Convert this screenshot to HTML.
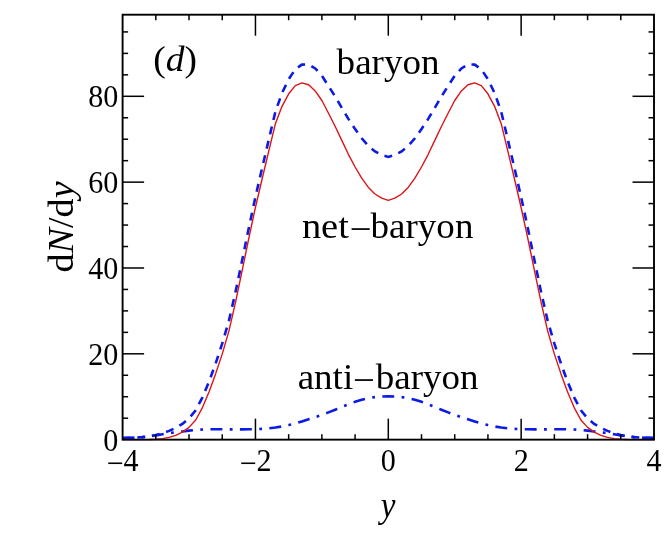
<!DOCTYPE html>
<html><head><meta charset="utf-8"><style>
html,body{margin:0;padding:0;background:#fff;}
svg{display:block;will-change:transform}
text{font-family:"Liberation Serif",serif;fill:#000}
.t{font-size:30px}
.l{font-size:36px}
</style></head><body>
<svg width="664" height="558" viewBox="0 0 664 558">
<rect width="664" height="558" fill="#fff"/>
<path d="M122.6,438.1 L129.2,437.9 L135.9,437.6 L142.5,437.1 L149.2,436.3 L155.8,435.1 L162.5,433.3 L169.1,430.9 L175.7,427.9 L182.4,423.9 L189.0,418.4 L195.7,410.3 L202.3,397.6 L209.0,381.8 L215.6,363.6 L222.2,343.7 L228.9,320.8 L235.5,292.1 L242.2,260.1 L248.8,228.0 L255.4,197.1 L262.1,168.2 L268.7,140.0 L275.4,111.6 L282.0,93.1 L288.7,79.2 L295.3,69.3 L301.9,64.6 L308.6,64.4 L315.2,68.4 L321.9,75.7 L328.5,86.0 L335.2,96.6 L341.8,107.8 L348.4,118.9 L355.1,129.1 L361.7,138.3 L368.4,145.9 L375.0,151.4 L381.7,155.0 L388.3,156.9 L394.9,155.0 L401.6,151.4 L408.2,145.9 L414.9,138.3 L421.5,129.1 L428.2,118.9 L434.8,107.8 L441.4,96.6 L448.1,86.0 L454.7,75.7 L461.4,68.4 L468.0,64.4 L474.7,64.6 L481.3,69.3 L487.9,79.2 L494.6,93.1 L501.2,111.6 L507.9,140.0 L514.5,168.2 L521.1,197.1 L527.8,228.0 L534.4,260.1 L541.1,292.1 L547.7,320.8 L554.4,343.7 L561.0,363.6 L567.6,381.8 L574.3,397.6 L580.9,410.3 L587.6,418.4 L594.2,423.9 L600.9,427.9 L607.5,430.9 L614.1,433.3 L620.8,435.1 L627.4,436.3 L634.1,437.1 L640.7,437.6 L647.4,437.9 L654.0,438.1" fill="none" stroke="#0c1ae6" stroke-width="2.6" stroke-dasharray="8.0 6.725" stroke-dashoffset="0.00"/>
<path d="M122.6,438.1 L129.2,437.9 L135.9,437.6 L142.5,437.1 L149.2,436.4 L155.8,435.5 L162.5,434.3 L169.1,433.1 L175.7,432.3 L182.4,431.5 L189.0,430.6 L195.7,429.9 L202.3,429.5 L209.0,429.3 L215.6,429.3 L222.2,429.3 L228.9,429.4 L235.5,429.4 L242.2,429.4 L248.8,429.3 L255.4,429.2 L262.1,428.9 L268.7,428.3 L275.4,427.5 L282.0,426.5 L288.7,425.1 L295.3,423.4 L301.9,421.4 L308.6,419.3 L315.2,417.2 L321.9,414.9 L328.5,412.4 L335.2,409.7 L341.8,407.0 L348.4,404.3 L355.1,401.8 L361.7,399.7 L368.4,398.2 L375.0,397.1 L381.7,396.5 L388.3,396.2 L394.9,396.5 L401.6,397.1 L408.2,398.2 L414.9,399.7 L421.5,401.8 L428.2,404.3 L434.8,407.0 L441.4,409.7 L448.1,412.4 L454.7,414.9 L461.4,417.2 L468.0,419.3 L474.7,421.4 L481.3,423.4 L487.9,425.1 L494.6,426.5 L501.2,427.5 L507.9,428.3 L514.5,428.9 L521.1,429.2 L527.8,429.3 L534.4,429.4 L541.1,429.4 L547.7,429.4 L554.4,429.3 L561.0,429.3 L567.6,429.3 L574.3,429.5 L580.9,429.9 L587.6,430.6 L594.2,431.5 L600.9,432.3 L607.5,433.1 L614.1,434.3 L620.8,435.5 L627.4,436.4 L634.1,437.1 L640.7,437.6 L647.4,437.9 L654.0,438.1" fill="none" stroke="#0c1ae6" stroke-width="2.6" stroke-dasharray="11.9 7.386 2.8 7.386" stroke-dashoffset="0.00"/>
<path d="M122.6,439.6 L129.2,439.6 L135.9,439.6 L142.5,439.6 L149.2,439.5 L155.8,439.2 L162.5,438.6 L169.1,437.4 L175.7,435.3 L182.4,432.1 L189.0,427.4 L195.7,420.0 L202.3,407.8 L209.0,392.1 L215.6,373.9 L222.2,354.1 L228.9,331.1 L235.5,302.3 L242.2,270.4 L248.8,238.3 L255.4,207.5 L262.1,179.0 L268.7,151.3 L275.4,123.7 L282.0,106.3 L288.7,93.8 L295.3,85.6 L301.9,82.9 L308.6,84.7 L315.2,90.9 L321.9,100.5 L328.5,113.2 L335.2,126.5 L341.8,140.4 L348.4,154.3 L355.1,167.0 L361.7,178.2 L368.4,187.4 L375.0,194.0 L381.7,198.2 L388.3,200.3 L394.9,198.2 L401.6,194.0 L408.2,187.4 L414.9,178.2 L421.5,167.0 L428.2,154.3 L434.8,140.4 L441.4,126.5 L448.1,113.2 L454.7,100.5 L461.4,90.9 L468.0,84.7 L474.7,82.9 L481.3,85.6 L487.9,93.8 L494.6,106.3 L501.2,123.7 L507.9,151.3 L514.5,179.0 L521.1,207.5 L527.8,238.3 L534.4,270.4 L541.1,302.3 L547.7,331.1 L554.4,354.1 L561.0,373.9 L567.6,392.1 L574.3,407.8 L580.9,420.0 L587.6,427.4 L594.2,432.1 L600.9,435.3 L607.5,437.4 L614.1,438.6 L620.8,439.2 L627.4,439.5 L634.1,439.6 L640.7,439.6 L647.4,439.6 L654.0,439.6" fill="none" stroke="#dc1416" stroke-width="1.4" stroke-linejoin="round"/>
<g stroke="#000" stroke-width="1.5">
<line x1="155.81" y1="439.65" x2="155.81" y2="434.15"/>
<line x1="155.81" y1="14.7" x2="155.81" y2="20.2"/>
<line x1="189.02" y1="439.65" x2="189.02" y2="434.15"/>
<line x1="189.02" y1="14.7" x2="189.02" y2="20.2"/>
<line x1="222.24" y1="439.65" x2="222.24" y2="434.15"/>
<line x1="222.24" y1="14.7" x2="222.24" y2="20.2"/>
<line x1="255.45" y1="439.65" x2="255.45" y2="418.65"/>
<line x1="255.45" y1="14.7" x2="255.45" y2="35.7"/>
<line x1="288.66" y1="439.65" x2="288.66" y2="434.15"/>
<line x1="288.66" y1="14.7" x2="288.66" y2="20.2"/>
<line x1="321.88" y1="439.65" x2="321.88" y2="434.15"/>
<line x1="321.88" y1="14.7" x2="321.88" y2="20.2"/>
<line x1="355.09" y1="439.65" x2="355.09" y2="434.15"/>
<line x1="355.09" y1="14.7" x2="355.09" y2="20.2"/>
<line x1="388.30" y1="439.65" x2="388.30" y2="418.65"/>
<line x1="388.30" y1="14.7" x2="388.30" y2="35.7"/>
<line x1="421.51" y1="439.65" x2="421.51" y2="434.15"/>
<line x1="421.51" y1="14.7" x2="421.51" y2="20.2"/>
<line x1="454.73" y1="439.65" x2="454.73" y2="434.15"/>
<line x1="454.73" y1="14.7" x2="454.73" y2="20.2"/>
<line x1="487.94" y1="439.65" x2="487.94" y2="434.15"/>
<line x1="487.94" y1="14.7" x2="487.94" y2="20.2"/>
<line x1="521.15" y1="439.65" x2="521.15" y2="418.65"/>
<line x1="521.15" y1="14.7" x2="521.15" y2="35.7"/>
<line x1="554.36" y1="439.65" x2="554.36" y2="434.15"/>
<line x1="554.36" y1="14.7" x2="554.36" y2="20.2"/>
<line x1="587.57" y1="439.65" x2="587.57" y2="434.15"/>
<line x1="587.57" y1="14.7" x2="587.57" y2="20.2"/>
<line x1="620.79" y1="439.65" x2="620.79" y2="434.15"/>
<line x1="620.79" y1="14.7" x2="620.79" y2="20.2"/>
<line x1="122.6" y1="418.19" x2="128.1" y2="418.19"/>
<line x1="654.0" y1="418.19" x2="648.5" y2="418.19"/>
<line x1="122.6" y1="396.73" x2="128.1" y2="396.73"/>
<line x1="654.0" y1="396.73" x2="648.5" y2="396.73"/>
<line x1="122.6" y1="375.27" x2="128.1" y2="375.27"/>
<line x1="654.0" y1="375.27" x2="648.5" y2="375.27"/>
<line x1="122.6" y1="353.81" x2="144.1" y2="353.81"/>
<line x1="654.0" y1="353.81" x2="632.5" y2="353.81"/>
<line x1="122.6" y1="332.35" x2="128.1" y2="332.35"/>
<line x1="654.0" y1="332.35" x2="648.5" y2="332.35"/>
<line x1="122.6" y1="310.89" x2="128.1" y2="310.89"/>
<line x1="654.0" y1="310.89" x2="648.5" y2="310.89"/>
<line x1="122.6" y1="289.43" x2="128.1" y2="289.43"/>
<line x1="654.0" y1="289.43" x2="648.5" y2="289.43"/>
<line x1="122.6" y1="267.98" x2="144.1" y2="267.98"/>
<line x1="654.0" y1="267.98" x2="632.5" y2="267.98"/>
<line x1="122.6" y1="246.52" x2="128.1" y2="246.52"/>
<line x1="654.0" y1="246.52" x2="648.5" y2="246.52"/>
<line x1="122.6" y1="225.06" x2="128.1" y2="225.06"/>
<line x1="654.0" y1="225.06" x2="648.5" y2="225.06"/>
<line x1="122.6" y1="203.60" x2="128.1" y2="203.60"/>
<line x1="654.0" y1="203.60" x2="648.5" y2="203.60"/>
<line x1="122.6" y1="182.14" x2="144.1" y2="182.14"/>
<line x1="654.0" y1="182.14" x2="632.5" y2="182.14"/>
<line x1="122.6" y1="160.68" x2="128.1" y2="160.68"/>
<line x1="654.0" y1="160.68" x2="648.5" y2="160.68"/>
<line x1="122.6" y1="139.22" x2="128.1" y2="139.22"/>
<line x1="654.0" y1="139.22" x2="648.5" y2="139.22"/>
<line x1="122.6" y1="117.76" x2="128.1" y2="117.76"/>
<line x1="654.0" y1="117.76" x2="648.5" y2="117.76"/>
<line x1="122.6" y1="96.30" x2="144.1" y2="96.30"/>
<line x1="654.0" y1="96.30" x2="632.5" y2="96.30"/>
<line x1="122.6" y1="74.84" x2="128.1" y2="74.84"/>
<line x1="654.0" y1="74.84" x2="648.5" y2="74.84"/>
<line x1="122.6" y1="53.38" x2="128.1" y2="53.38"/>
<line x1="654.0" y1="53.38" x2="648.5" y2="53.38"/>
<line x1="122.6" y1="31.92" x2="128.1" y2="31.92"/>
<line x1="654.0" y1="31.92" x2="648.5" y2="31.92"/>
</g>
<rect x="122.6" y="14.7" width="531.4" height="424.95" fill="none" stroke="#000" stroke-width="1.9"/>
<text transform="translate(118.20,450.55) scale(0.94,1)" text-anchor="end" font-size="32" >0</text>
<text transform="translate(118.20,364.71) scale(0.94,1)" text-anchor="end" font-size="32" >20</text>
<text transform="translate(118.20,278.88) scale(0.94,1)" text-anchor="end" font-size="32" >40</text>
<text transform="translate(118.20,193.04) scale(0.94,1)" text-anchor="end" font-size="32" >60</text>
<text transform="translate(118.20,107.20) scale(0.94,1)" text-anchor="end" font-size="32" >80</text>
<text transform="translate(122.60,471.10) scale(0.94,1)" text-anchor="middle" font-size="32" ><tspan dy="2.5">−</tspan><tspan dy="-2.5">4</tspan></text>
<text transform="translate(255.45,471.10) scale(0.94,1)" text-anchor="middle" font-size="32" ><tspan dy="2.5">−</tspan><tspan dy="-2.5">2</tspan></text>
<text transform="translate(388.30,471.10) scale(0.94,1)" text-anchor="middle" font-size="32" >0</text>
<text transform="translate(521.15,471.10) scale(0.94,1)" text-anchor="middle" font-size="32" >2</text>
<text transform="translate(654.00,471.10) scale(0.94,1)" text-anchor="middle" font-size="32" >4</text>
<text transform="translate(153.20,70.90) scale(1.04,1)" text-anchor="start" font-size="36" >(<tspan font-style="italic">d</tspan>)</text>
<text transform="translate(336.60,74.40) scale(1.03,1)" text-anchor="start" font-size="36" >baryon</text>
<text x="301.90" y="237.90" font-size="36" textLength="47.00" lengthAdjust="spacingAndGlyphs">net</text>
<text x="349.40" y="241.10" font-size="36" textLength="22.00" lengthAdjust="spacingAndGlyphs">−</text>
<text x="370.60" y="237.90" font-size="36" textLength="102.80" lengthAdjust="spacingAndGlyphs">baryon</text>
<text x="297.70" y="388.80" font-size="36" textLength="55.50" lengthAdjust="spacingAndGlyphs">anti</text>
<text x="352.80" y="392.00" font-size="36" textLength="22.00" lengthAdjust="spacingAndGlyphs">−</text>
<text x="375.70" y="388.80" font-size="36" textLength="102.80" lengthAdjust="spacingAndGlyphs">baryon</text>
<text transform="translate(388.00,517.00) scale(0.92,1)" text-anchor="middle" font-size="36" ><tspan font-style="italic">y</tspan></text>
<text transform="translate(73,227) rotate(-90) scale(1.06,1)" text-anchor="middle" font-size="36">d<tspan font-style="italic">N</tspan>/d<tspan font-style="italic">y</tspan></text>
</svg>
</body></html>
